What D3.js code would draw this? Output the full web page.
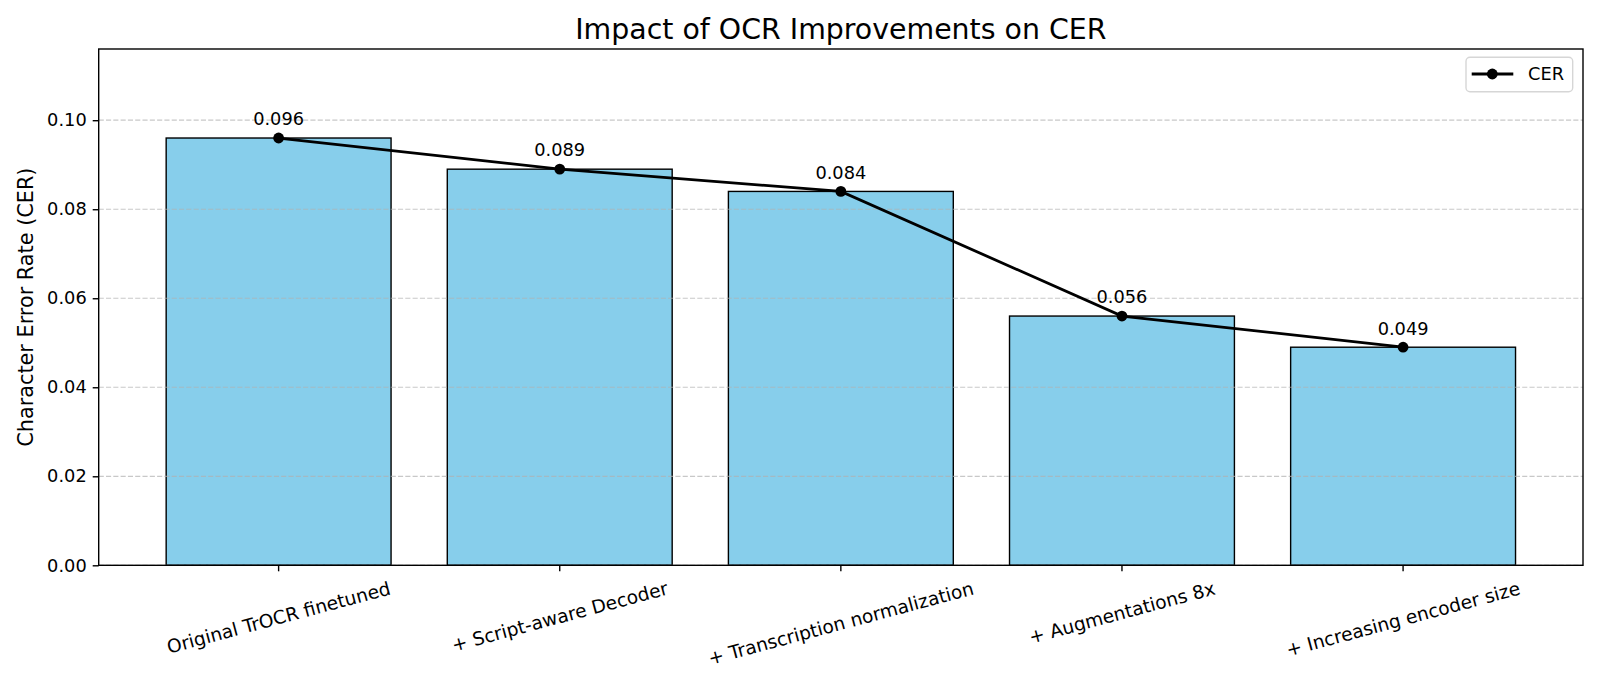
<!DOCTYPE html>
<html>
<head>
<meta charset="utf-8">
<script src="https://cdn.jsdelivr.net/npm/d3@7"></script>
<style>
  body { margin: 0; background: #fff; }
  svg { display: block; font-family: "DejaVu Sans", sans-serif; }
</style>
</head>
<body>
<svg id="chart"></svg>
<script>
// chart data
const categories = [
  "Original TrOCR finetuned",
  "+ Script-aware Decoder",
  "+ Transcription normalization",
  "+ Augmentations 8x",
  "+ Increasing encoder size"
];
const cerValues = [0.096, 0.089, 0.084, 0.056, 0.049];
const yTicks = [0.00, 0.02, 0.04, 0.06, 0.08, 0.10];
const yMax = 0.116;

const width = 1600;
const height = 686;
const margin = { left: 98.7, right: 1600 - 1583, top: 49, bottom: 686 - 565.3 };

const svg = d3.select("#chart")
  .attr("width", width)
  .attr("height", height)
  .attr("viewBox", `0 0 ${width} ${height}`);

const x = d3.scaleBand()
  .domain(categories)
  .range([margin.left, width - margin.right])
  .paddingInner(0.2)
  .paddingOuter(0.24);

const y = d3.scaleLinear()
  .domain([0, yMax])
  .range([height - margin.bottom, margin.top]);

const tickFont = 17.8;   // y ticks, annotations, legend
const xLabelFont = 18.6; // rotated category labels

// bars
svg.append("g")
  .selectAll("rect")
  .data(categories)
  .enter()
  .append("rect")
  .attr("x", d => x(d))
  .attr("y", (d, i) => y(cerValues[i]))
  .attr("width", x.bandwidth())
  .attr("height", (d, i) => y(0) - y(cerValues[i]))
  .attr("fill", "#87ceeb")
  .attr("stroke", "#000")
  .attr("stroke-width", 1.4);

// grid lines (above bars, below the line)
svg.append("g")
  .selectAll("line")
  .data(yTicks)
  .enter()
  .append("line")
  .attr("x1", margin.left)
  .attr("x2", width - margin.right)
  .attr("y1", d => y(d))
  .attr("y2", d => y(d))
  .attr("stroke", "#b0b0b0")
  .attr("stroke-opacity", 0.7)
  .attr("stroke-width", 1.2)
  .attr("stroke-dasharray", "5.1,2.2");

// y axis
const yAxis = svg.append("g")
  .attr("transform", `translate(${margin.left},0)`)
  .call(d3.axisLeft(y).tickValues(yTicks).tickFormat(d3.format(".2f")).tickSize(6).tickPadding(6));
yAxis.select(".domain").remove();
yAxis.selectAll(".tick line").attr("stroke", "#000").attr("stroke-width", 1.4);
yAxis.selectAll(".tick text")
  .attr("fill", "#000")
  .style("font-size", tickFont + "px")
  .style("font-family", "DejaVu Sans");

// x axis
const xAxis = svg.append("g")
  .attr("transform", `translate(0,${y(0)})`)
  .call(d3.axisBottom(x).tickSize(6).tickFormat(""));
xAxis.select(".domain").remove();
xAxis.selectAll(".tick line").attr("stroke", "#000").attr("stroke-width", 1.4);

// rotated x tick labels (15 deg, centred on tick)
const angle = 15 * Math.PI / 180;
const labelTop = y(0) + 12;
svg.append("g")
  .selectAll("text")
  .data(categories)
  .enter()
  .append("text")
  .text(d => d)
  .attr("text-anchor", "middle")
  .attr("dominant-baseline", "central")
  .style("font-size", xLabelFont + "px")
  .attr("fill", "#000")
  .attr("transform", function(d) {
    const w = this.getComputedTextLength();
    const h = xLabelFont * 1.17;
    const boxH = w * Math.sin(angle) + h * Math.cos(angle);
    const cx = x(d) + x.bandwidth() / 2;
    return `translate(${cx},${labelTop + boxH / 2}) rotate(-15)`;
  });

// axes frame
svg.append("rect")
  .attr("x", margin.left)
  .attr("y", margin.top)
  .attr("width", width - margin.left - margin.right)
  .attr("height", height - margin.top - margin.bottom)
  .attr("fill", "none")
  .attr("stroke", "#000")
  .attr("stroke-width", 1.4);

// CER line with markers
const cx = d => x(d) + x.bandwidth() / 2;
const line = d3.line()
  .x(d => cx(d))
  .y((d, i) => y(cerValues[i]));

svg.append("path")
  .datum(categories)
  .attr("d", line)
  .attr("fill", "none")
  .attr("stroke", "#000")
  .attr("stroke-width", 2.8);

svg.append("g")
  .selectAll("circle")
  .data(categories)
  .enter()
  .append("circle")
  .attr("cx", d => cx(d))
  .attr("cy", (d, i) => y(cerValues[i]))
  .attr("r", 5.4)
  .attr("fill", "#000");

// value annotations
svg.append("g")
  .selectAll("text")
  .data(categories)
  .enter()
  .append("text")
  .attr("x", d => cx(d))
  .attr("y", (d, i) => y(cerValues[i]) - 12.7)
  .attr("text-anchor", "middle")
  .style("font-size", tickFont + "px")
  .attr("fill", "#000")
  .text((d, i) => d3.format(".3f")(cerValues[i]));

// title
svg.append("text")
  .attr("x", (margin.left + width - margin.right) / 2)
  .attr("y", 39)
  .attr("text-anchor", "middle")
  .style("font-size", "28.4px")
  .attr("fill", "#000")
  .text("Impact of OCR Improvements on CER");

// y label
svg.append("text")
  .attr("transform", `translate(33,${(margin.top + y(0)) / 2}) rotate(-90)`)
  .attr("text-anchor", "middle")
  .style("font-size", "20.8px")
  .attr("fill", "#000")
  .text("Character Error Rate (CER)");

// legend
const legend = svg.append("g").attr("transform", "translate(1466,57.3)");
legend.append("rect")
  .attr("width", 106.7)
  .attr("height", 34.4)
  .attr("rx", 4)
  .attr("fill", "#fff")
  .attr("fill-opacity", 0.8)
  .attr("stroke", "#d6d6d6")
  .attr("stroke-width", 1.4);
legend.append("line")
  .attr("x1", 5.7).attr("x2", 47.3)
  .attr("y1", 16.7).attr("y2", 16.7)
  .attr("stroke", "#000")
  .attr("stroke-width", 2.8);
legend.append("circle")
  .attr("cx", 26.3).attr("cy", 16.7).attr("r", 5.4)
  .attr("fill", "#000");
legend.append("text")
  .attr("x", 62)
  .attr("y", 16.7)
  .attr("dy", "0.35em")
  .style("font-size", tickFont + "px")
  .attr("fill", "#000")
  .text("CER");
</script>
</body>
</html>
